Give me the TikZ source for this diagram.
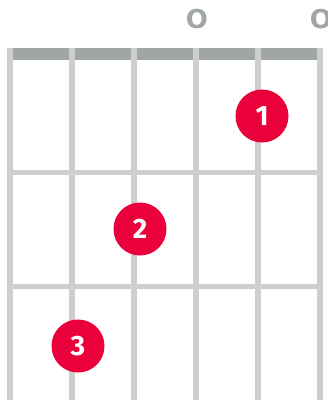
\documentclass[tikz,border=0pt]{standalone}
\usepackage{fontspec}
\setmainfont{Fira Sans}
\newfontfamily\openfont{DejaVu Sans}
\definecolor{nutgray}{RGB}{160,166,164}
\definecolor{stringgray}{RGB}{206,206,206}
\definecolor{fingerred}{RGB}{234,0,58}
\begin{document}
\begin{tikzpicture}[x=1pt,y=-1pt,
  every node/.style={font=\bfseries\fontsize{28}{28}\selectfont},
  finger/.style={circle,fill=fingerred,text=white,minimum size=53pt,inner sep=0pt},
  openmark/.style={text=nutgray,inner sep=0pt,font=\openfont\bfseries\fontsize{26}{26}\selectfont}]
  \useasboundingbox (0,0) rectangle (328,400);
  % nut, frets and strings
  \fill[nutgray] (7,48) rectangle (323,60);
  \foreach \y in {172,286}
    \draw[stringgray,line width=5pt] (10,\y) -- (320,\y);
  \foreach \x in {10,72,134,196,258,320}
    \draw[stringgray,line width=5.5pt] (\x,48) -- (\x,400);
  % open strings
  \node[openmark] (openG) at (197,19) {O};
  \node[openmark] (openE) at (321,19) {O};
  % fingers
  \node[finger] (fingerA) at (262,116) {1};
  \node[finger] (fingerB) at (140,229) {2};
  \node[finger] (fingerC) at (78,346) {3};
\end{tikzpicture}
\end{document}
